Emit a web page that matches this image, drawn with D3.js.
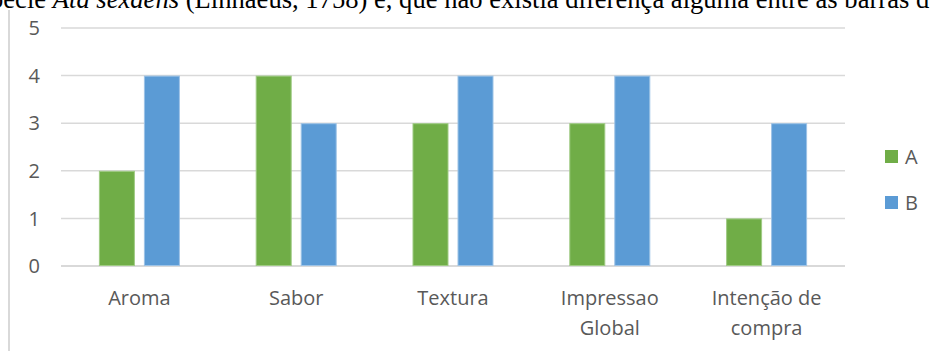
<!DOCTYPE html>
<html>
<head>
<meta charset="utf-8">
<script src="https://cdn.jsdelivr.net/npm/d3@7"></script>
<style>
  body { margin: 0; background: #fff; }
  svg { display: block; }
  .tick-label { font-family: "Open Sans", sans-serif; font-size: 20px; fill: #595959; }
  .caption { font-family: "Liberation Serif", "Times New Roman", serif; font-size: 26.6px; fill: #000; }
</style>
</head>
<body>
<svg id="chart" width="933" height="351"></svg>
<script>
const categories = ["Aroma", "Sabor", "Textura", "Impressao\nGlobal", "Intenção de\ncompra"];
const seriesKeys = ["A", "B"];
const valuesA = [2, 4, 3, 3, 1];
const valuesB = [4, 3, 4, 4, 3];
const yTicks = [0, 1, 2, 3, 4, 5];
const colors = { A: "#70AD47", B: "#5B9BD5" };
const edgeColors = { A: "#9fcb84", B: "#9dc3e6" };

const rows = categories.map((c, i) => ({ cat: c, A: valuesA[i], B: valuesB[i] }));

const svg = d3.select("#chart");

// caption line cut off by the crop of the page
const caption = svg.append("text")
  .attr("class", "caption")
  .attr("x", -10)
  .attr("y", 8);
caption.append("tspan").text("pecie ");
caption.append("tspan").attr("font-style", "italic").text("Ata sexdens");
caption.append("tspan").text(" (Linnaeus, 1758) e, que não existia diferença alguma entre as barras d");

// left frame line
svg.append("line")
  .attr("x1", 9).attr("x2", 9)
  .attr("y1", 10).attr("y2", 351)
  .attr("stroke", "#d9d9d9")
  .attr("stroke-width", 2);

const x0 = d3.scaleBand()
  .domain(categories)
  .range([61, 845])
  .paddingInner(0.4834)
  .paddingOuter(0.2417);

const x1 = d3.scaleBand()
  .domain(seriesKeys)
  .range([0, x0.bandwidth()])
  .paddingInner(0.2);

const y = d3.scaleLinear().domain([0, 5]).range([266, 28]);

// gridlines
svg.append("g")
  .selectAll("line")
  .data(yTicks)
  .join("line")
  .attr("x1", 61).attr("x2", 845)
  .attr("y1", (d) => y(d)).attr("y2", (d) => y(d))
  .attr("stroke", "#d9d9d9")
  .attr("stroke-width", (d) => (d === 0 ? 2 : 1.5));

// y tick labels
svg.append("g")
  .selectAll("text")
  .data(yTicks)
  .join("text")
  .attr("class", "tick-label")
  .attr("x", 40)
  .attr("y", (d) => y(d))
  .attr("dy", "0.36em")
  .attr("text-anchor", "end")
  .text((d) => d);

// bars
const groups = svg.append("g")
  .selectAll("g")
  .data(rows)
  .join("g")
  .attr("transform", (d) => `translate(${x0(d.cat)},0)`);

groups.selectAll("rect")
  .data((d) => seriesKeys.map((k) => ({ key: k, value: d[k] })))
  .join("rect")
  .attr("x", (d) => x1(d.key) + 0.5)
  .attr("width", x1.bandwidth() - 1)
  .attr("y", (d) => y(d.value) + 0.5)
  .attr("height", (d) => y(0) - y(d.value) - 1)
  .attr("fill", (d) => colors[d.key])
  .attr("stroke", (d) => edgeColors[d.key])
  .attr("stroke-width", 1);

// x labels
const xl = svg.append("g")
  .selectAll("text")
  .data(categories)
  .join("text")
  .attr("class", "tick-label")
  .attr("text-anchor", "middle")
  .attr("x", (d) => x0(d) + x0.bandwidth() / 2)
  .attr("y", 305);

xl.selectAll("tspan")
  .data((d) => d.split("\n").map((t, i) => ({ t, i, cx: x0(d) + x0.bandwidth() / 2 })))
  .join("tspan")
  .attr("x", (d) => d.cx)
  .attr("dy", (d) => (d.i === 0 ? 0 : 30))
  .text((d) => d.t);

// legend
const legend = svg.append("g")
  .selectAll("g")
  .data(seriesKeys)
  .join("g")
  .attr("transform", (d, i) => `translate(885,${150 + i * 46})`);

legend.append("rect")
  .attr("width", 13).attr("height", 13)
  .attr("fill", (d) => colors[d]);

legend.append("text")
  .attr("class", "tick-label")
  .attr("x", 20)
  .attr("y", 6.5)
  .attr("dy", "0.36em")
  .text((d) => d);
</script>
</body>
</html>
